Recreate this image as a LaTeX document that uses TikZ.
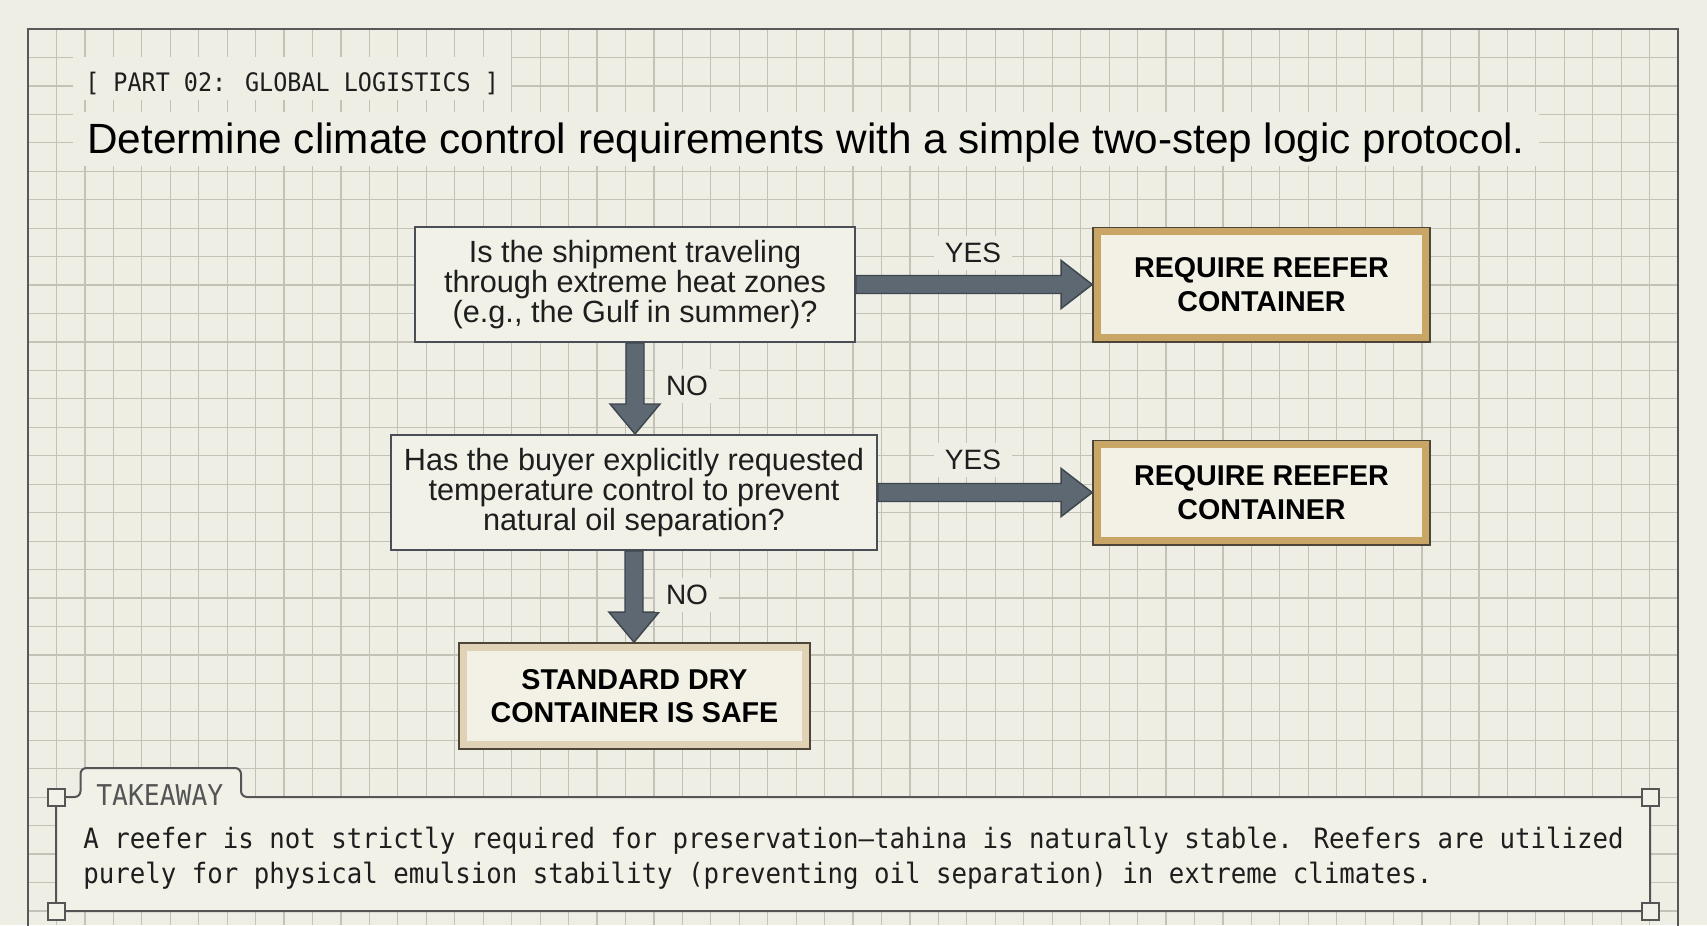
\documentclass[tikz,border=0pt]{standalone}
\usepackage{fontspec}
\setmainfont{Liberation Sans}
\setmonofont{DejaVu Sans Mono}
\newfontfamily\condmono[FakeStretch=0.92]{DejaVu Sans Mono}
\usetikzlibrary{calc}
\definecolor{paper}{HTML}{EEEEE4}
\definecolor{gridc}{HTML}{C2C2B7}
\definecolor{framec}{HTML}{585858}
\definecolor{boxfill}{HTML}{F1F1E8}
\definecolor{boxline}{HTML}{4A4F57}
\definecolor{arrfill}{HTML}{5D6872}
\definecolor{arrline}{HTML}{3E464E}
\definecolor{tanband}{HTML}{C9A566}
\definecolor{tanlight}{HTML}{E0D2B4}
\definecolor{tanline}{HTML}{4D4538}
\definecolor{innerfill}{HTML}{F3F1E6}
\definecolor{txt}{HTML}{1E1E1E}
\definecolor{tkline}{HTML}{555555}
\newcommand{\hblockarrow}[2]{%
  \filldraw[blockarrow] ($(#1.east)+(0,-9)$) -- ($(#1.east -| #2.west)+(-31,-9)$) -- ($(#1.east -| #2.west)+(-31,-24)$) -- (#1.east -| #2.west) -- ($(#1.east -| #2.west)+(-31,24)$) -- ($(#1.east -| #2.west)+(-31,9)$) -- ($(#1.east)+(0,9)$) -- cycle;}
\newcommand{\vblockarrow}[2]{%
  \filldraw[blockarrow] ($(#1.south)+(-9,0)$) -- ($(#1.south |- #2.north)+(-9,-30)$) -- ($(#1.south |- #2.north)+(-25,-30)$) -- (#1.south |- #2.north) -- ($(#1.south |- #2.north)+(25,-30)$) -- ($(#1.south |- #2.north)+(9,-30)$) -- ($(#1.south)+(9,0)$) -- cycle;}
\begin{document}
\begin{tikzpicture}[x=0.75pt,y=-0.75pt,
  gridline/.style={gridc, line width=0.9pt},
  qbox/.style={draw=boxline, line width=1.5pt, fill=boxfill, align=center, text=txt, inner sep=0pt, font=\fontsize{23}{22.5}\selectfont},
  rbox/.style={draw=tanline, line width=1.2pt, fill=#1, align=center, text=black, inner sep=0pt,
    font=\fontsize{21.5}{25}\selectfont\bfseries,
    path picture={\fill[innerfill] ($(path picture bounding box.north west)+(8,8)$) rectangle ($(path picture bounding box.south east)+(-8,-8)$);}},
  rbox/.default=tanband,
  blockarrow/.style={fill=arrfill, draw=arrline, line width=1.1pt, line join=miter},
  lbl/.style={fill=paper, text=txt, inner xsep=8pt, inner ysep=5pt, font=\fontsize{21}{24}\selectfont},
  hdr/.style={anchor=base west, fill=paper, text=txt, inner xsep=9pt, inner ysep=0pt, text height=25.5pt, text depth=6.75pt, font=\condmono\fontsize{19.1}{22}\selectfont},
  ttl/.style={anchor=base west, fill=paper, text=black, inner xsep=10.5pt, inner ysep=0pt, text height=30.75pt, text depth=9.75pt, font=\fontsize{31.7}{36}\selectfont},
  tkbox/.style={fill=boxfill, draw=tkline, line width=1.5pt},
  tksq/.style={draw=tkline, fill=boxfill, line width=1.5pt, minimum size=12.75pt, inner sep=0pt},
  tklabel/.style={anchor=base west, inner sep=0pt, text=tkline, font=\condmono\fontsize{21.5}{24}\selectfont},
  tkbody/.style={anchor=base west, inner sep=0pt, text=txt, font=\condmono\fontsize{21}{25}\selectfont}
]
\useasboundingbox (0,0) rectangle (1707,925);
\fill[paper] (0,0) rectangle (1707,925);
% grid
\foreach \k in {1,...,57} \draw[gridline] ({28+28.45*\k},29) -- ({28+28.45*\k},925);
\foreach \k in {1,...,32} \draw[gridline] (28,{29+28.45*\k}) -- (1678,{29+28.45*\k});
\draw[framec, line width=1.9pt] (28,960) -- (28,29) -- (1678,29) -- (1678,960);
% header
\node[hdr] (hdr) at (73,91) {[ PART 02: GLOBAL LOGISTICS ]};
\node[ttl] (ttl) at (73,153) {Determine climate control requirements with a simple two-step logic protocol.};
% boxes
\node[qbox, minimum width=330pt, minimum height=86.25pt] (q1) at (635,284.5) {Is the shipment traveling\\through extreme heat zones\\(e.g., the Gulf in summer)?};
\node[qbox, minimum width=364.5pt, minimum height=86.25pt] (q2) at (634,492.5) {Has the buyer explicitly requested\\temperature control to prevent\\natural oil separation?};
\node[rbox, minimum width=252.75pt, minimum height=86pt] (r1) at (1261.5,284.7) {REQUIRE REEFER\\CONTAINER};
\node[rbox, minimum width=252.75pt, minimum height=78.4pt] (r2) at (1261.5,492.7) {REQUIRE REEFER\\CONTAINER};
\node[rbox=tanlight, minimum width=263.25pt, minimum height=79.5pt] (s) at (634.5,696) {STANDARD DRY\\CONTAINER IS SAFE};
% arrows
\hblockarrow{q1}{r1}
\hblockarrow{q2}{r2}
\vblockarrow{q1}{q2}
\vblockarrow{q2}{s}
% labels
\node[lbl] (y1) at (973,253) {YES};
\node[lbl] (n1) at (687,386) {NO};
\node[lbl] (y2) at (973,460) {YES};
\node[lbl] (n2) at (687,595) {NO};
% takeaway
\filldraw[tkbox, rounded corners=4.5pt] (56,797) -- (80.5,797) -- (80.5,768) -- (241,768) -- (241,797) -- (1650,797) -- (1650,911) -- (56,911) -- cycle;
\node[tksq] (c1) at (56,797) {};
\node[tksq] (c2) at (56,911) {};
\node[tksq] (c3) at (1650,797) {};
\node[tksq] (c4) at (1650,911) {};
\node[tklabel] (tk) at (96,805) {TAKEAWAY};
\node[tkbody] (tb1) at (83,848) {A reefer is not strictly required for preservation—tahina is naturally stable. Reefers are utilized};
\node[tkbody] (tb2) at (83,883) {purely for physical emulsion stability (preventing oil separation) in extreme climates.};
\end{tikzpicture}
\end{document}
